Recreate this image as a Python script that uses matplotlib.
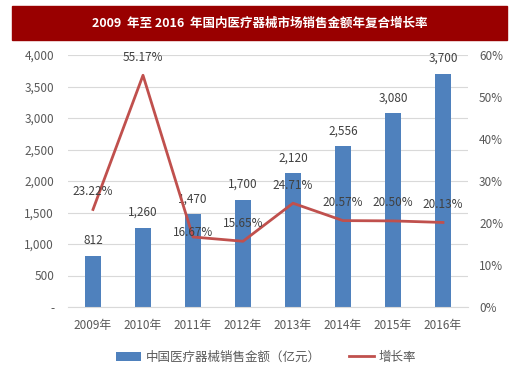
import matplotlib.pyplot as plt
from matplotlib.ticker import FuncFormatter
from matplotlib.patches import Rectangle

plt.rcParams['font.family'] = ['Noto Sans CJK SC', 'DejaVu Sans']

years = ["2009年", "2010年", "2011年", "2012年", "2013年", "2014年", "2015年", "2016年"]
sales = [812, 1260, 1470, 1700, 2120, 2556, 3080, 3700]
growth = [23.22, 55.17, 16.67, 15.65, 24.71, 20.57, 20.50, 20.13]

bar_color = "#4F81BD"
line_color = "#C0504D"
tick_color = "#595959"
label_color = "#404040"

fig = plt.figure(figsize=(5.14, 3.77), dpi=100)

# title banner
fig.patches.append(Rectangle((12 / 514, 1 - 40 / 377), 495 / 514, 34 / 377,
                             transform=fig.transFigure, color="#990000", zorder=0))
fig.text(0.505, 1 - 23 / 377, "2009  年至 2016  年国内医疗器械市场销售金额年复合增长率",
         ha="center", va="center", color="white", fontsize=9, fontweight="bold")

ax = fig.add_axes([68 / 514, 1 - 307 / 377, 400 / 514, 252 / 377])
x = list(range(len(years)))
ax.bar(x, sales, width=0.32, color=bar_color, label="中国医疗器械销售金额（亿元）", zorder=2)
ax.set_ylim(0, 4000)
ax.set_xlim(-0.5, len(years) - 0.5)
ax.set_yticks(range(0, 4001, 500))
ax.yaxis.set_major_formatter(FuncFormatter(lambda v, p: "-" if v == 0 else f"{int(v):,}"))
ax.grid(axis="y", color="#D9D9D9", linewidth=0.8, zorder=0)
ax.set_axisbelow(True)
ax.set_xticks(x)
ax.set_xticklabels(years)
for s in ["top", "right", "left"]:
    ax.spines[s].set_visible(False)
ax.spines["bottom"].set_color("#D9D9D9")
ax.tick_params(axis="both", length=0, colors=tick_color, labelsize=8.5)
ax.tick_params(axis="x", pad=9)
ax.tick_params(axis="y", pad=10)

for xi, v in zip(x, sales):
    ax.annotate(f"{v:,}", (xi, v), xytext=(0, 11), textcoords="offset points",
                ha="center", va="center", fontsize=8.5, color=label_color)

ax2 = ax.twinx()
ax2.plot(x, growth, color=line_color, linewidth=2, label="增长率", zorder=3)
ax2.set_ylim(0, 60)
ax2.set_yticks(range(0, 61, 10))
ax2.yaxis.set_major_formatter(FuncFormatter(lambda v, p: f"{int(v)}%"))
for s in ["top", "right", "left", "bottom"]:
    ax2.spines[s].set_visible(False)
ax2.tick_params(axis="y", length=0, colors=tick_color, labelsize=8.5, pad=8)

for xi, g in zip(x, growth):
    dy = 3 if xi == 2 else 13
    ax2.annotate(f"{g:.2f}%", (xi, g), xytext=(0, dy), textcoords="offset points",
                 ha="center", va="center", fontsize=8.5, color=label_color)

h1, l1 = ax.get_legend_handles_labels()
h2, l2 = ax2.get_legend_handles_labels()
fig.legend(h1 + h2, l1 + l2, loc="center", bbox_to_anchor=(266 / 514, 1 - 357 / 377),
           ncol=2, frameon=False, fontsize=9, labelcolor=tick_color,
           handlelength=2, handletextpad=0.4, columnspacing=2.2)

fig.savefig("out.png", dpi=100)
